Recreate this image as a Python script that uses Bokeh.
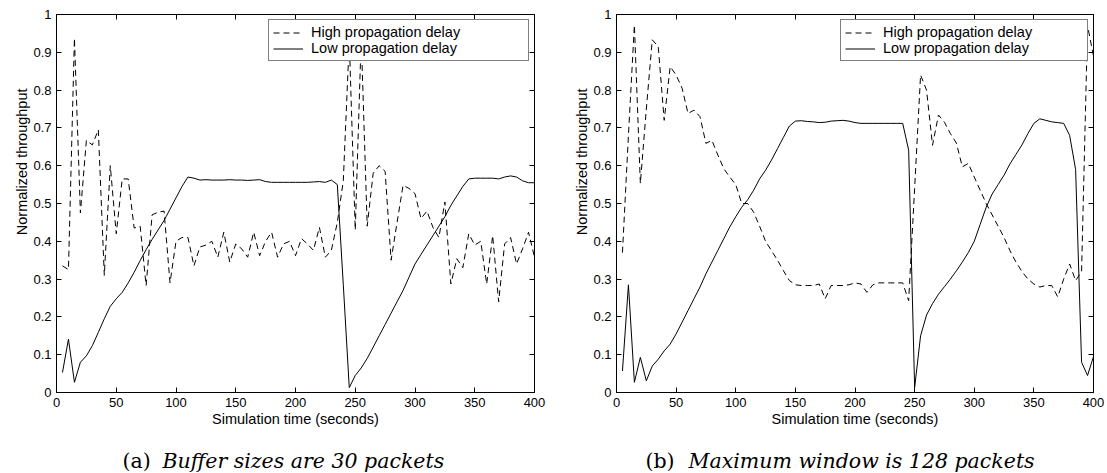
from bokeh.plotting import figure
from bokeh.models import FixedTicker, LinearAxis, Label, Legend, LegendItem, Range1d, Title
from bokeh.layouts import row, column
from bokeh.embed import file_html
from bokeh.resources import INLINE

# ---------------- data ----------------
time_s = [5, 10, 15, 20, 25, 30, 35, 40, 45, 50, 55, 60, 65, 70, 75, 80, 85, 90, 95, 100,
          105, 110, 115, 120, 125, 130, 135, 140, 145, 150, 155, 160, 165, 170, 175, 180, 185, 190, 195, 200,
          205, 210, 215, 220, 225, 230, 235, 240, 245, 250, 255, 260, 265, 270, 275, 280, 285, 290, 295, 300,
          305, 310, 315, 320, 325, 330, 335, 340, 345, 350, 355, 360, 365, 370, 375, 380, 385, 390, 395, 400]

# (a) Buffer sizes are 30 packets
a_high = [0.335, 0.325, 0.937, 0.475, 0.667, 0.655, 0.695, 0.31, 0.60, 0.42,
          0.565, 0.565, 0.435, 0.44, 0.283, 0.47, 0.477, 0.48, 0.29, 0.40,
          0.41, 0.41, 0.335, 0.385, 0.39, 0.40, 0.358, 0.424, 0.345, 0.393,
          0.38, 0.358, 0.424, 0.362, 0.40, 0.424, 0.358, 0.393, 0.40, 0.362,
          0.407, 0.393, 0.376, 0.437, 0.358, 0.376, 0.45, 0.56, 0.93, 0.43,
          0.94, 0.44, 0.58, 0.60, 0.585, 0.35, 0.45, 0.548, 0.54, 0.526,
          0.46, 0.48, 0.437, 0.41, 0.504, 0.287, 0.354, 0.33, 0.42, 0.39,
          0.40, 0.287, 0.415, 0.24, 0.393, 0.41, 0.34, 0.38, 0.424, 0.358]
a_low = [0.053, 0.141, 0.027, 0.08, 0.097, 0.124, 0.159, 0.195, 0.228, 0.248,
         0.265, 0.29, 0.318, 0.349, 0.378, 0.405, 0.43, 0.455, 0.485, 0.515,
         0.545, 0.57, 0.567, 0.562, 0.563, 0.562, 0.562, 0.562, 0.563, 0.562,
         0.562, 0.561, 0.562, 0.563, 0.558, 0.556, 0.556, 0.556, 0.556, 0.556,
         0.556, 0.556, 0.557, 0.558, 0.556, 0.562, 0.55, 0.285, 0.013, 0.045,
         0.065, 0.09, 0.12, 0.15, 0.18, 0.21, 0.24, 0.27, 0.305, 0.34,
         0.365, 0.39, 0.415, 0.44, 0.465, 0.495, 0.52, 0.545, 0.565, 0.567,
         0.567, 0.567, 0.567, 0.565, 0.57, 0.573, 0.57, 0.56, 0.555, 0.555]

# (b) Maximum window is 128 packets
b_high = [0.37, 0.68, 0.972, 0.553, 0.75, 0.933, 0.915, 0.72, 0.862, 0.84,
          0.805, 0.738, 0.747, 0.73, 0.659, 0.667, 0.628, 0.592, 0.57, 0.55,
          0.50, 0.50, 0.477, 0.44, 0.40, 0.375, 0.35, 0.322, 0.296, 0.285,
          0.283, 0.283, 0.283, 0.287, 0.248, 0.283, 0.283, 0.283, 0.285, 0.29,
          0.287, 0.265, 0.285, 0.29, 0.29, 0.29, 0.29, 0.29, 0.243, 0.54,
          0.84, 0.80, 0.654, 0.734, 0.715, 0.685, 0.66, 0.597, 0.606, 0.57,
          0.535, 0.50, 0.47, 0.44, 0.41, 0.375, 0.345, 0.32, 0.30, 0.287,
          0.279, 0.283, 0.283, 0.253, 0.30, 0.34, 0.296, 0.32, 0.97, 0.89]
b_low = [0.057, 0.285, 0.027, 0.093, 0.031, 0.07, 0.088, 0.11, 0.128, 0.155,
         0.186, 0.217, 0.248, 0.279, 0.314, 0.345, 0.376, 0.407, 0.438, 0.465,
         0.49, 0.51, 0.535, 0.565, 0.588, 0.615, 0.645, 0.675, 0.705, 0.718,
         0.719, 0.717, 0.716, 0.714, 0.715, 0.718, 0.719, 0.72, 0.718, 0.714,
         0.712, 0.712, 0.712, 0.712, 0.712, 0.712, 0.712, 0.712, 0.641, 0.013,
         0.15, 0.205, 0.235, 0.26, 0.28, 0.30, 0.322, 0.345, 0.37, 0.40,
         0.445, 0.49, 0.525, 0.55, 0.575, 0.605, 0.63, 0.655, 0.685, 0.712,
         0.724, 0.72, 0.716, 0.714, 0.712, 0.68, 0.59, 0.08, 0.045, 0.095]

x_ticks = [0, 50, 100, 150, 200, 250, 300, 350, 400]
y_ticks = [0, 0.1, 0.2, 0.3, 0.4, 0.5, 0.6, 0.7, 0.8, 0.9, 1]
y_tick_labels = ["0", "0.1", "0.2", "0.3", "0.4", "0.5", "0.6", "0.7", "0.8", "0.9", "1"]
series_names = ["High propagation delay", "Low propagation delay"]
x_label = "Simulation time (seconds)"
y_label = "Normalized throughput"
caption_tags = ["(a)", "(b)"]
caption_texts = ["Buffer sizes are 30 packets", "Maximum window is 128 packets"]

SANS = "Liberation Sans"
SERIF = "DejaVu Serif"
PLOT_H = 433
CAP_H = 40


def style_axis(ax, ticks, show_labels, overrides=None):
    ax.ticker = FixedTicker(ticks=ticks)
    ax.major_tick_in = 5
    ax.major_tick_out = 0
    ax.minor_tick_in = 0
    ax.minor_tick_out = 0
    ax.minor_tick_line_color = None
    ax.axis_line_color = "black"
    ax.axis_line_width = 1
    ax.major_tick_line_color = "black"
    ax.major_tick_line_width = 1
    ax.major_label_text_font = SANS
    ax.major_label_text_font_size = "13px"
    ax.major_label_text_color = "black" if show_labels else None
    ax.major_label_standoff = 5
    if overrides:
        ax.major_label_overrides = overrides


def make_panel(high, low, width, border_right, label_width):
    p = figure(width=width, height=PLOT_H, output_backend="svg", toolbar_location=None,
               x_range=Range1d(0, 400), y_range=Range1d(0, 1),
               min_border_left=56, min_border_right=border_right,
               min_border_top=14, min_border_bottom=PLOT_H - 14 - 378)
    p.xgrid.visible = False
    p.ygrid.visible = False
    p.outline_line_color = "black"
    p.outline_line_width = 1
    p.outline_line_alpha = 1
    p.background_fill_color = "white"
    p.border_fill_color = "white"

    overrides = {t: l for t, l in zip(y_ticks, y_tick_labels)}
    for ax in p.xaxis:
        style_axis(ax, x_ticks, True)
        ax.axis_label = x_label
        ax.axis_label_text_font = SANS
        ax.axis_label_text_font_size = "14.5px"
        ax.axis_label_text_font_style = "normal"
        ax.axis_label_text_color = "black"
        ax.axis_label_standoff = 1
    for ax in p.yaxis:
        style_axis(ax, y_ticks, True, overrides)

    top = LinearAxis()
    style_axis(top, x_ticks, False)
    p.add_layout(top, "above")
    right = LinearAxis()
    style_axis(right, y_ticks, False)
    p.add_layout(right, "right")

    # y-axis label, placed as a side title so that it is not clipped
    p.add_layout(Title(text=y_label, align="right", offset=74, standoff=0,
                       vertical_align="middle",
                       text_font=SANS, text_font_size="14.5px",
                       text_font_style="normal", text_color="black"), "left")

    r_high = p.line(time_s, high, line_color="black", line_width=1, line_dash="6 4")
    r_low = p.line(time_s, low, line_color="black", line_width=1)

    legend = Legend(items=[LegendItem(label=series_names[0], renderers=[r_high]),
                           LegendItem(label=series_names[1], renderers=[r_low])],
                    location="top_right", margin=5, padding=4, spacing=0,
                    glyph_width=30, glyph_height=15, label_height=15,
                    label_standoff=8, label_width=label_width,
                    border_line_color="black", border_line_width=1,
                    background_fill_color="white", background_fill_alpha=1,
                    label_text_font=SANS, label_text_font_size="14.5px",
                    label_text_color="black")
    p.add_layout(legend)
    return p


p1 = make_panel(a_high, a_low, 560, 26, 213)
p2 = make_panel(b_high, b_low, 547, 14, 200)

# caption strip below both panels (pixel-like coordinates)
cap = figure(width=1107, height=CAP_H, output_backend="svg", toolbar_location=None,
             x_range=Range1d(0, 1107), y_range=Range1d(0, CAP_H),
             min_border=0, x_axis_location=None, y_axis_location=None)
cap.xgrid.visible = False
cap.ygrid.visible = False
cap.outline_line_color = None
cap.background_fill_color = "white"
cap.border_fill_color = "white"
cap_positions = [(122, 162), (645, 688)]
for tag, text, (tx, px) in zip(caption_tags, caption_texts, cap_positions):
    cap.add_layout(Label(x=tx, y=13, text=tag, text_align="left",
                         text_baseline="alphabetic", text_font=SERIF,
                         text_font_size="20.5px", text_color="black"))
    cap.add_layout(Label(x=px, y=13, text=text, text_align="left",
                         text_baseline="alphabetic", text_font=SERIF,
                         text_font_style="italic",
                         text_font_size="20.5px", text_color="black"))

layout = column(row(p1, p2, spacing=0), cap, spacing=0)
open("out.html", "w").write(file_html(layout, INLINE))
